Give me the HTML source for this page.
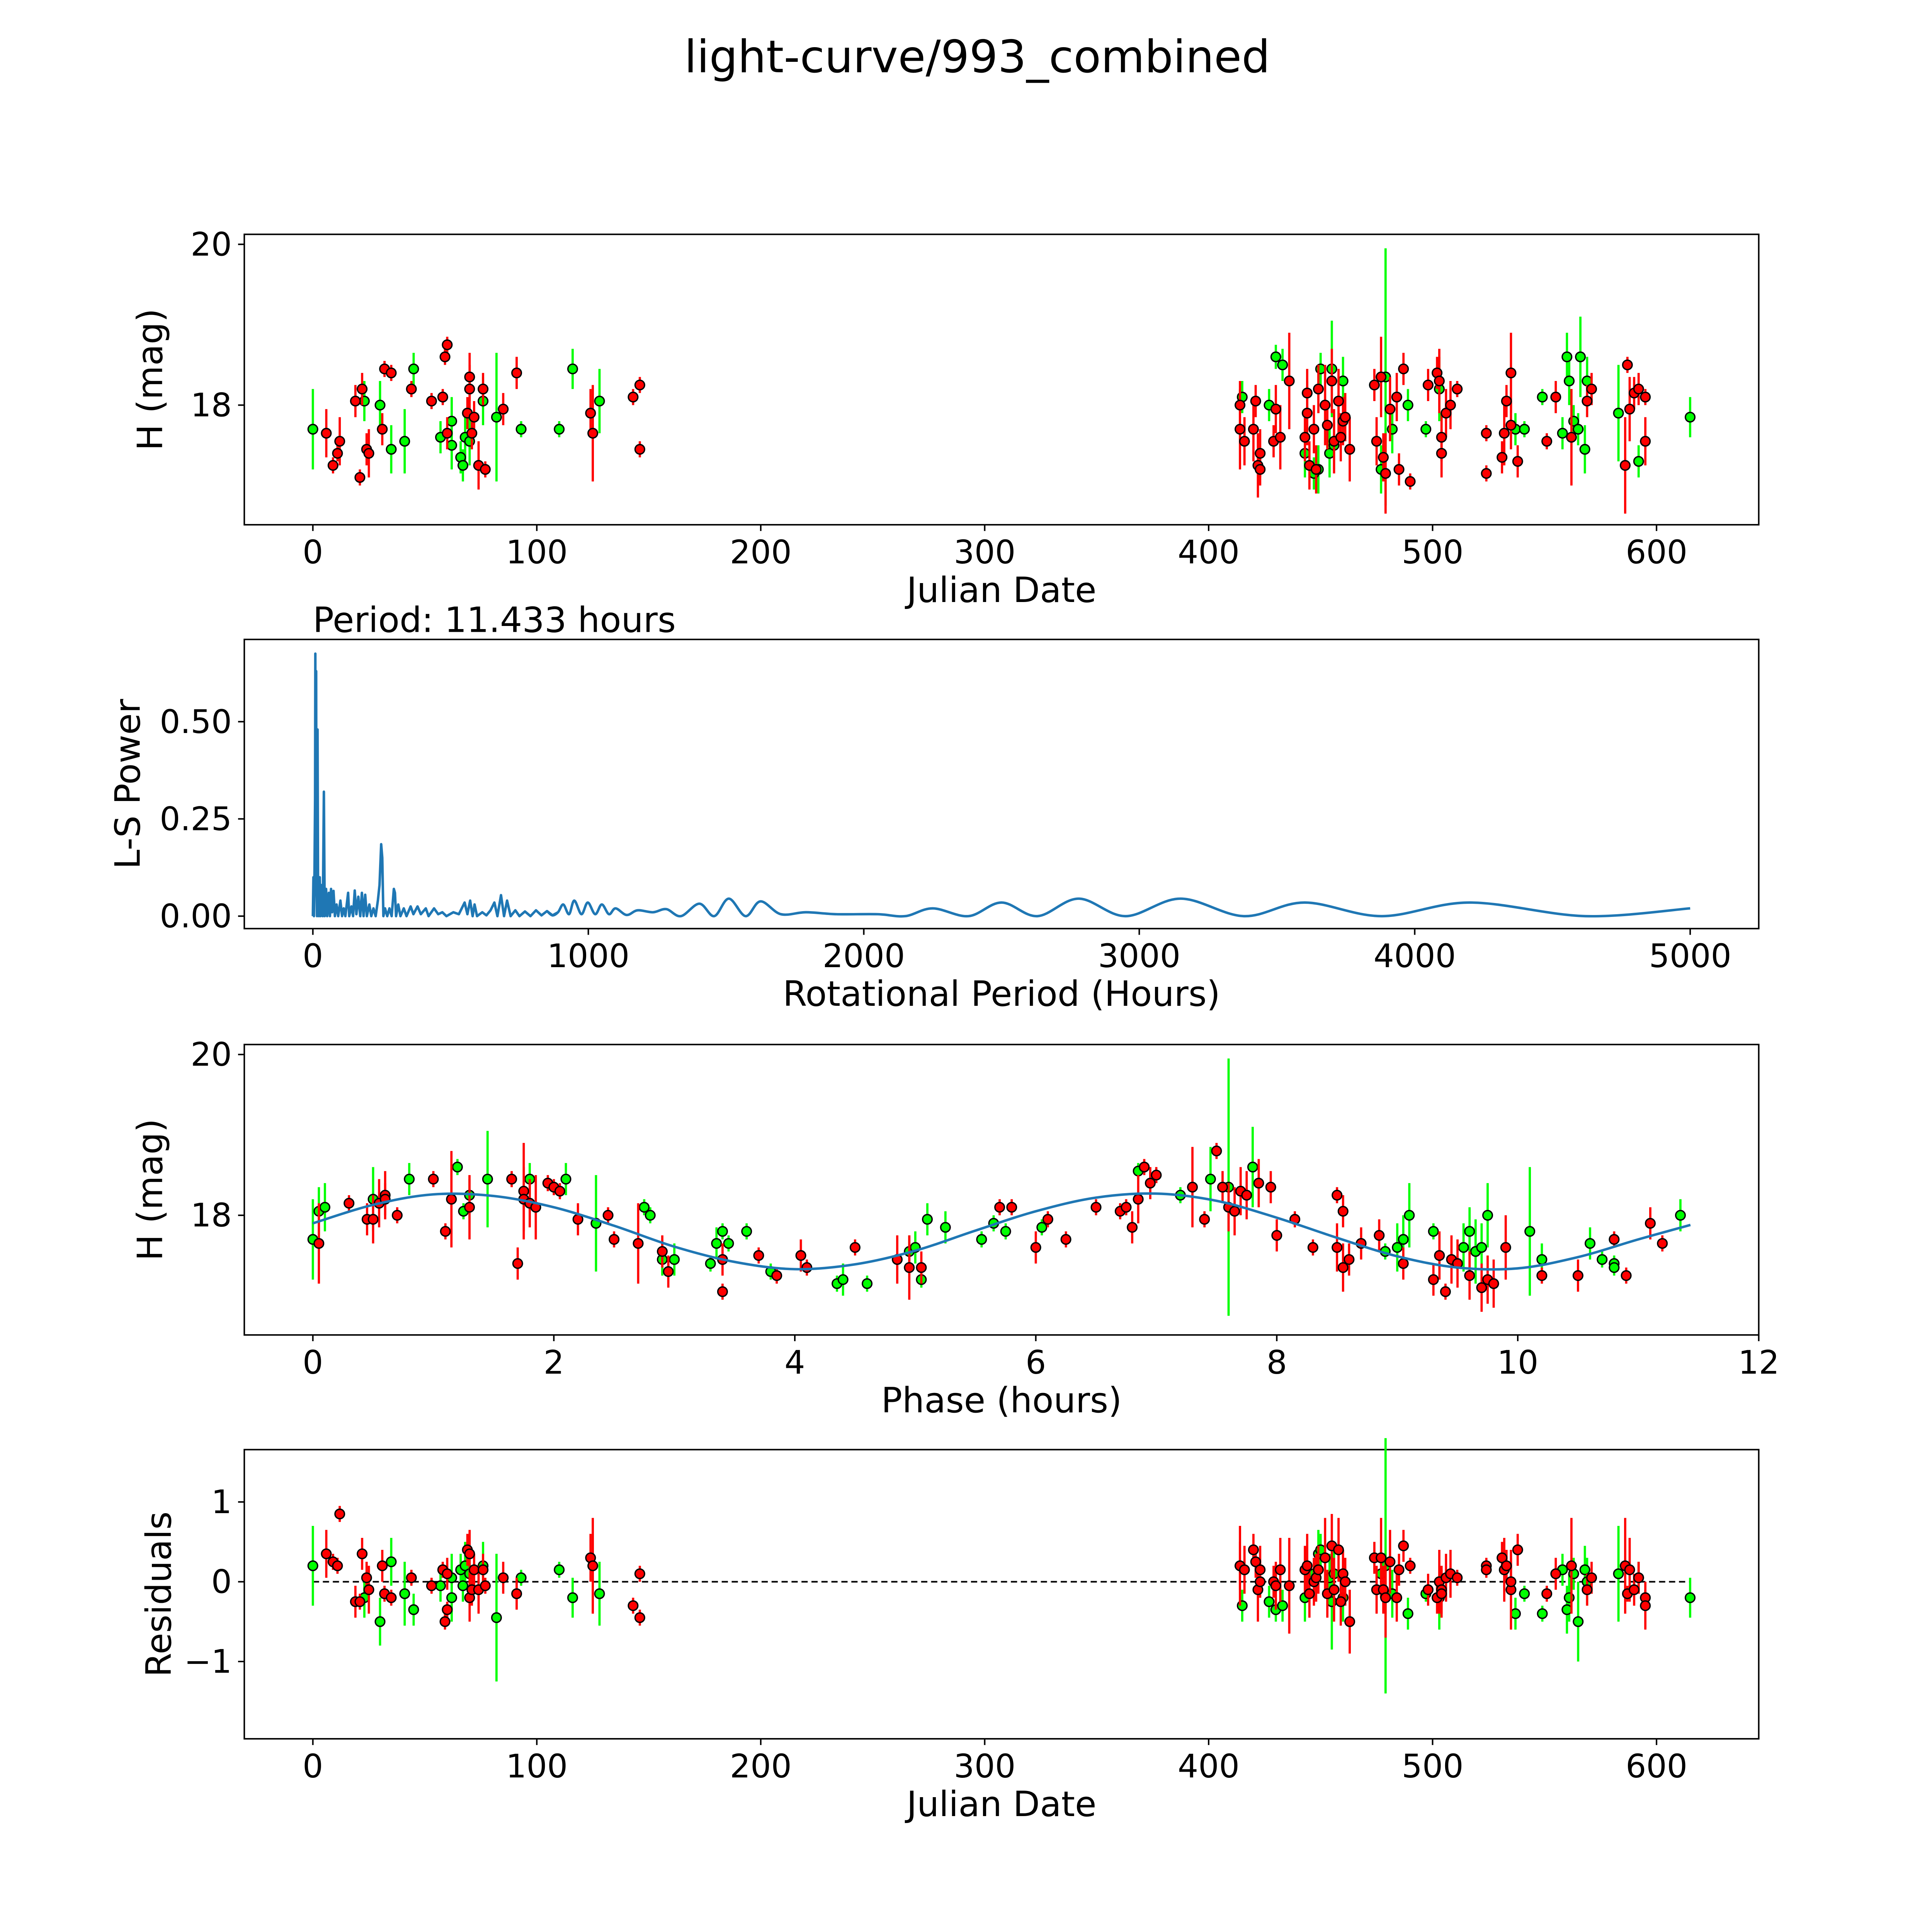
<!DOCTYPE html>
<html><head><meta charset="utf-8">
<style>html,body{margin:0;padding:0;background:#fff;overflow:hidden;width:100vw;height:100vh}svg{display:block;width:100vw;height:100vh}text{font-family:"DejaVu Sans","Liberation Sans",sans-serif}</style>
</head><body>
<svg id="fig" viewBox="0 0 1550 1550" preserveAspectRatio="xMidYMid meet" xmlns="http://www.w3.org/2000/svg">
<rect width="1550" height="1550" fill="#fff"/>
<text x="784" y="58" font-size="36" text-anchor="middle">light-curve/993_combined</text>
<text x="251" y="507" font-size="28">Period: 11.433 hours</text>
<g id="layer"></g>
</svg>
<script>
// ---- data ----
const jdTicks=[0,100,200,300,400,500,600];
const magTicks=[18,20];
const powTicks=[0,0.25,0.5];
const powTickLabels=["0.00","0.25","0.50"];
const perTicks=[0,1000,2000,3000,4000,5000];
const phaseTicks=[0,2,4,6,8,10,12];
const resTicks=[-1,0,1];
// [jd, mag, err]
const topGreen=[[0,17.7,.5],[23,18.05,.25],[30,18.0,.3],[35,17.45,.3],[41,17.55,.4],[45,18.45,.2],[57,17.6,.2],[62,17.5,.3],[62,17.8,.3],[66,17.35,.2],[67,17.25,.2],[68,17.6,.3],[70,17.55,.3],[76,18.05,.3],[82,17.85,.8],[93,17.7,.1],[110,17.7,.1],[116,18.45,.25],[128,18.05,.4],[415,18.1,.2],[427,18.0,.2],[430,18.6,.15],[433,18.5,.2],[443,17.4,.3],[447,17.15,.2],[449,17.2,.3],[450,18.45,.2],[454,17.4,.3],[455,18.45,.6],[456,17.5,.3],[460,18.3,.3],[477,17.2,.3],[479,18.35,1.6],[482,17.7,.3],[489,18.0,.2],[497,17.7,.1],[503,18.2,.4],[537,17.7,.2],[541,17.7,.1],[549,18.1,.1],[558,17.65,.2],[560,18.6,.3],[561,18.3,.3],[563,17.8,.2],[565,17.7,.2],[566,18.6,.5],[568,17.45,.3],[569,18.3,.3],[583,17.9,.6],[592,17.3,.2],[615,17.85,.25]];
const topRed=[[6,17.65,.3],[9,17.25,.1],[11,17.4,.1],[12,17.55,.3],[19,18.05,.2],[21,17.1,.1],[22,18.2,.2],[24,17.45,.2],[25,17.4,.3],[31,17.7,.2],[32,18.45,.1],[35,18.4,.1],[44,18.2,.1],[53,18.05,.1],[58,18.1,.1],[59,18.6,.1],[60,18.75,.1],[60,17.65,.2],[69,17.9,.2],[70,18.35,.3],[70,18.2,.3],[71,17.65,.2],[72,17.85,.2],[74,17.25,.3],[76,18.2,.2],[77,17.2,.1],[85,17.95,.2],[91,18.4,.2],[124,17.9,.3],[125,17.65,.6],[143,18.1,.1],[146,18.25,.1],[146,17.45,.1],[414,18.0,.3],[414,17.7,.5],[416,17.55,.3],[420,17.7,.4],[421,18.05,.2],[422,17.25,.4],[423,17.2,.2],[423,17.4,.3],[429,17.55,.2],[430,17.95,.3],[432,17.6,.4],[436,18.3,.6],[443,17.6,.3],[444,17.9,.4],[444,18.15,.3],[445,17.25,.3],[447,17.7,.3],[448,17.2,.3],[449,18.2,.3],[452,18.0,.5],[453,17.75,.3],[455,18.3,.4],[456,17.55,.4],[458,18.05,.4],[459,17.6,.3],[460,17.8,.3],[461,17.85,.3],[463,17.45,.4],[474,18.25,.2],[475,17.55,.3],[477,18.35,.5],[478,17.35,.3],[479,17.15,.5],[481,17.95,.4],[484,18.1,.3],[485,17.2,.2],[487,18.45,.2],[490,17.05,.1],[498,18.25,.2],[502,18.4,.2],[503,18.3,.4],[504,17.6,.3],[504,17.4,.3],[506,17.9,.3],[508,18.0,.3],[511,18.2,.1],[524,17.65,.1],[524,17.15,.1],[531,17.35,.2],[532,17.65,.4],[533,18.05,.2],[535,18.4,.5],[535,17.75,.3],[538,17.3,.2],[551,17.55,.1],[555,18.1,.2],[562,17.6,.6],[569,18.05,.2],[571,18.2,.2],[586,17.25,.6],[587,18.5,.1],[588,17.95,.4],[590,18.15,.2],[592,18.2,.2],[595,18.1,.1],[595,17.55,.3]];
// periodogram
const periods=[0,2,4,6,8,9,10,11,12,13,15,17,19,22,25,28,32,36,40,43,48,52,58,62,66,70,75,80,86,92,100,106,112,118,128,132,140,146,152,158,165,172,178,184,190,196,205,212,220,228,236,242,248,252,256,262,270,278,286,294,298,302,310,318,330,340,355,365,380,392,410,420,440,455,470,485,510,530,551,561,571,580,587,596,615,630,645,659,670,683,694,705,718,735,750,770,790,810,830,850,870,890,909,930,949,975,998,1025,1049,1075,1099,1139,1179,1235,1283,1336,1403,1457,1510,1571,1625,1699,1790,1900,2050,2150,2250,2380,2500,2630,2780,2950,3150,3380,3600,3880,4200,4620,5000];
const powers=[0,0.1,0,0.12,0.3,0.675,0.2,0.55,0.63,0.1,0,0.48,0.05,0,0.1,0,0.08,0,0.32,0,0.07,0,0.06,0,0.07,0.01,0.065,0,0.03,0,0.04,0,0.02,0,0.06,0,0.025,0,0.066,0.005,0.05,0,0.06,0,0.055,0,0.03,0,0.02,0,0.04,0.08,0.185,0.15,0,0.02,0,0.02,0,0.07,0.06,0,0.03,0,0.02,0,0.025,0.005,0.025,0.005,0.02,0,0.02,0.005,0.01,0,0.01,0.005,0.035,0.005,0.04,0,0.03,0,0.01,0.002,0.015,0.035,0,0.054,0,0.04,0,0.015,0,0.012,0,0.015,0.002,0.013,0.002,0.01,0.03,0.005,0.04,0.005,0.035,0.005,0.03,0.005,0.02,0.003,0.015,0.01,0.018,0,0.032,0,0.045,0,0.038,0.005,0.01,0.005,0.005,0,0.02,0,0.035,0,0.045,0,0.045,0,0.035,0,0.035,0,0.02];
// phase-folded [hours, mag, err]
const phGreen=[[0,17.7,.5],[0.05,18.05,.3],[0.1,18.1,.3],[0.5,18.2,.4],[0.8,18.45,.2],[1.2,18.6,.1],[1.25,18.05,.1],[1.3,18.25,.2],[1.45,18.45,.6],[1.8,18.45,.2],[2.1,18.45,.2],[2.35,17.9,.6],[2.75,18.1,.1],[2.8,18.0,.1],[2.9,17.45,.2],[3.0,17.45,.2],[3.3,17.4,.1],[3.35,17.65,.2],[3.4,17.8,.1],[3.45,17.65,.1],[3.6,17.8,.1],[3.8,17.3,.1],[4.35,17.15,.1],[4.4,17.2,.2],[4.6,17.15,.1],[4.95,17.55,.2],[5.0,17.6,.2],[5.05,17.2,.1],[5.1,17.95,.2],[5.25,17.85,.2],[5.55,17.7,.1],[5.65,17.9,.1],[5.75,17.8,.1],[6.05,17.85,.1],[6.85,18.55,.1],[7.2,18.25,.1],[7.45,18.45,.4],[7.6,18.35,1.6],[7.8,18.6,.5],[8.9,17.55,.1],[9.0,17.6,.3],[9.05,17.7,.3],[9.1,18.0,.4],[9.3,17.8,.1],[9.55,17.6,.3],[9.6,17.8,.3],[9.65,17.55,.4],[9.7,17.6,.3],[9.75,18.0,.4],[10.1,17.8,.8],[10.2,17.45,.2],[10.6,17.65,.2],[10.7,17.45,.1],[10.8,17.4,.1],[10.8,17.35,.1],[11.35,18.0,.2]];
const phRed=[[0.05,17.65,.5],[0.3,18.15,.1],[0.45,17.95,.2],[0.5,17.95,.3],[0.55,18.15,.3],[0.6,18.25,.3],[0.6,18.2,.2],[0.7,18.0,.1],[1.0,18.45,.1],[1.1,17.8,.1],[1.15,18.2,.6],[1.3,18.1,.4],[1.65,18.45,.1],[1.7,17.4,.2],[1.75,18.3,.6],[1.75,18.2,.4],[1.8,18.15,.3],[1.85,18.1,.4],[1.95,18.4,.1],[2.0,18.35,.1],[2.05,18.3,.1],[2.2,17.95,.2],[2.45,18.0,.1],[2.5,17.7,.1],[2.7,17.65,.5],[2.9,17.55,.2],[2.95,17.3,.2],[3.4,17.05,.1],[3.4,17.45,.2],[3.7,17.5,.1],[3.85,17.25,.1],[4.05,17.5,.2],[4.1,17.35,.1],[4.5,17.6,.1],[4.85,17.45,.3],[4.95,17.35,.4],[5.05,17.35,.2],[5.7,18.1,.1],[5.8,18.1,.1],[6.0,17.6,.2],[6.1,17.95,.1],[6.25,17.7,.1],[6.5,18.1,.1],[6.7,18.05,.1],[6.75,18.1,.1],[6.8,17.85,.2],[6.85,18.2,.3],[6.9,18.6,.1],[6.95,18.4,.2],[7.0,18.5,.1],[7.3,18.35,.5],[7.4,17.95,.1],[7.5,18.8,.1],[7.55,18.35,.2],[7.6,18.1,.3],[7.65,18.05,.3],[7.7,18.3,.3],[7.75,18.25,.3],[7.85,18.4,.3],[7.95,18.35,.2],[8.0,17.75,.2],[8.15,17.95,.1],[8.3,17.6,.1],[8.5,18.25,.1],[8.55,18.05,.2],[8.5,17.6,.3],[8.55,17.35,.3],[8.6,17.45,.2],[8.7,17.65,.2],[8.85,17.75,.2],[9.05,17.4,.2],[9.3,17.2,.2],[9.35,17.5,.3],[9.4,17.05,.1],[9.45,17.45,.3],[9.5,17.4,.3],[9.6,17.25,.3],[9.7,17.1,.3],[9.75,17.2,.3],[9.8,17.15,.3],[9.9,17.6,.4],[10.2,17.25,.1],[10.5,17.25,.2],[10.8,17.7,.1],[10.9,17.25,.1],[11.1,17.9,.2],[11.2,17.65,.1]];
const fitPhase=[0,0.5,1,1.5,2,2.5,3,3.5,4,4.5,5,5.5,6,6.5,7,7.5,8,8.5,9,9.5,10,10.5,11,11.433];
const fitMag=[17.9,18.13,18.26,18.24,18.1,17.87,17.61,17.42,17.33,17.39,17.56,17.81,18.05,18.22,18.27,18.18,17.97,17.72,17.49,17.35,17.34,17.48,17.7,17.88];
// residuals [jd, res, err]
const resGreen=[[0,0.2,.5],[23,-0.2,.25],[30,-0.5,.3],[35,0.25,.3],[41,-0.15,.4],[45,-0.35,.2],[57,-0.05,.2],[62,-0.2,.3],[62,0.05,.3],[66,0.15,.2],[67,-0.05,.2],[68,0.2,.3],[70,0.1,.3],[76,0.2,.3],[82,-0.45,.8],[93,0.05,.1],[110,0.15,.1],[116,-0.2,.25],[128,-0.15,.4],[415,-0.3,.2],[427,-0.25,.2],[430,-0.35,.15],[433,-0.3,.2],[443,-0.2,.3],[447,0.1,.2],[449,0.35,.3],[450,0.4,.2],[454,0.05,.3],[455,-0.25,.6],[456,0.1,.3],[460,-0.2,.3],[477,0.1,.3],[479,0.2,1.6],[482,-0.15,.3],[489,-0.4,.2],[497,-0.15,.1],[503,-0.2,.4],[537,-0.4,.2],[541,-0.15,.1],[549,-0.4,.1],[558,0.15,.2],[560,-0.35,.3],[561,-0.2,.3],[563,0.1,.2],[565,-0.5,.5],[568,0.15,.3],[569,0.0,.3],[583,0.1,.6],[592,0.05,.2],[615,-0.2,.25]];
const resRed=[[6,0.35,.3],[9,0.25,.1],[11,0.2,.1],[12,0.85,.1],[19,-0.25,.2],[21,-0.25,.1],[22,0.35,.2],[24,0.05,.2],[25,-0.1,.3],[31,0.2,.2],[32,-0.15,.1],[35,-0.2,.1],[44,0.05,.1],[53,-0.05,.1],[58,0.15,.1],[59,-0.5,.1],[60,-0.35,.1],[60,0.1,.2],[69,0.4,.2],[70,0.35,.3],[70,-0.2,.3],[71,-0.1,.2],[72,0.15,.2],[74,-0.1,.3],[76,0.15,.2],[77,-0.05,.1],[85,0.05,.2],[91,-0.15,.2],[124,0.3,.3],[125,0.2,.6],[143,-0.3,.1],[146,-0.45,.1],[146,0.1,.1],[414,0.2,.5],[414,0.2,.3],[416,0.15,.3],[420,0.4,.2],[421,0.25,.2],[422,-0.1,.4],[423,0.0,.2],[423,0.15,.3],[429,0.0,.2],[430,-0.05,.3],[432,0.15,.4],[436,-0.05,.6],[443,0.15,.3],[444,0.2,.4],[445,-0.15,.3],[447,0.0,.3],[448,0.05,.3],[449,0.15,.3],[452,0.3,.5],[453,-0.15,.3],[455,0.45,.4],[456,-0.1,.4],[458,0.4,.4],[459,-0.25,.3],[460,0.1,.3],[461,0.0,.3],[463,-0.5,.4],[474,0.3,.2],[475,-0.1,.3],[477,0.3,.5],[478,-0.1,.3],[479,-0.2,.5],[481,0.25,.4],[484,-0.2,.3],[485,0.15,.2],[487,0.45,.2],[490,0.2,.1],[498,-0.1,.2],[502,-0.2,.2],[503,0.0,.4],[504,-0.1,.3],[504,-0.15,.3],[506,0.05,.3],[508,0.1,.3],[511,0.05,.1],[524,0.2,.1],[524,0.15,.1],[531,0.3,.2],[532,0.15,.4],[533,0.2,.2],[535,-0.1,.5],[535,0.0,.3],[538,0.4,.2],[551,-0.15,.1],[555,0.1,.2],[562,0.2,.6],[569,-0.1,.2],[571,0.05,.2],[586,0.2,.6],[587,-0.15,.1],[588,0.15,.4],[590,-0.1,.2],[592,0.05,.2],[595,-0.2,.1],[595,-0.3,.3]];

// ---- drawing ----
const NS="http://www.w3.org/2000/svg";
const layer=document.getElementById('layer');
function mk(tag,attrs,parent){const e=document.createElementNS(NS,tag);for(const k in attrs)e.setAttribute(k,attrs[k]);(parent||layer).appendChild(e);return e;}
function lin(d0,d1,p0,p1){return v=>p0+(v-d0)*(p1-p0)/(d1-d0);}
const L=196,R=1411;
function axes(name,top,bot,xs,ys,xt,xtl,yt,ytl,xlabel,ylabel,ylx){
  const g=mk('g',{});
  
  
  const fr=mk('rect',{x:L,y:top,width:R-L,height:bot-top,fill:'none',stroke:'#000','stroke-width':1.2},g);
  
  
  xt.forEach((v,i)=>{const x=xs(v);
    const tk=mk('line',{x1:x,x2:x,y1:bot,y2:bot+5,stroke:'#000','stroke-width':1.2},g);
    
    
    const t=mk('text',{x:x,y:bot+31,'font-size':26,'text-anchor':'middle'},g);t.textContent=xtl[i];
    
    });
  yt.forEach((v,i)=>{const y=ys(v);
    const tk=mk('line',{x1:L,x2:L-5,y1:y,y2:y,stroke:'#000','stroke-width':1.2},g);
    
    
    const t=mk('text',{x:L-10,y:y+9,'font-size':26,'text-anchor':'end'},g);t.textContent=ytl[i];
    
    });
  const xl=mk('text',{x:(L+R)/2,y:bot+62,'font-size':28,'text-anchor':'middle'},g);xl.textContent=xlabel;
  
  
  const cy=(top+bot)/2;
  const yl=mk('text',{x:ylx,y:cy,'font-size':28,'text-anchor':'middle',transform:`rotate(-90 ${ylx} ${cy})`},g);yl.textContent=ylabel;
  
  
  return g;
}
function errpts(pts,xs,ys,col,name,g){
  pts.forEach(p=>{const x=xs(p[0]);
    const l=mk('line',{x1:x,x2:x,y1:ys(p[1]-p[2]),y2:ys(p[1]+p[2]),stroke:col,'stroke-width':1.8},g);
    
    });
  pts.forEach(p=>{
    const c=mk('circle',{cx:xs(p[0]),cy:ys(p[1]),r:3.8,fill:col,stroke:'#000','stroke-width':1.1},g);
    
    });
}
function smoothPath(px){let d=`M${px[0][0]},${px[0][1]}`;
  for(let i=0;i<px.length-1;i++){const p0=px[Math.max(0,i-1)],p1=px[i],p2=px[i+1],p3=px[Math.min(px.length-1,i+2)];
    d+=` C${p1[0]+(p2[0]-p0[0])/6},${p1[1]+(p2[1]-p0[1])/6} ${p2[0]-(p3[0]-p1[0])/6},${p2[1]-(p3[1]-p1[1])/6} ${p2[0]},${p2[1]}`;}
  return d;}

// panel 1
const x1=lin(0,600,251,1329), y1=lin(18,20,325,196);
const g1=axes('light-curve-panel',188,421,x1,y1,jdTicks,jdTicks.map(String),magTicks,magTicks.map(String),'Julian Date','H (mag)',130);
errpts(topGreen,x1,y1,'#00ff00','green-band',g1);
errpts(topRed,x1,y1,'#ff0000','red-band',g1);

// panel 2
const x2=lin(0,5000,251,1356), y2=lin(0,0.5,735,579);
const g2=axes('periodogram-panel',513,745,x2,y2,perTicks,perTicks.map(String),powTicks,powTickLabels,'Rotational Period (Hours)','L-S Power',112);
let dA='';let pts2=[];
periods.forEach((p,i)=>{ if(p<=900){dA+=(dA?' L':'M')+x2(p)+','+y2(powers[i]);} if(p>=850)pts2.push([x2(p),y2(powers[i])]);});
const pl=mk('path',{d:dA,fill:'none',stroke:'#1f77b4','stroke-width':2,'stroke-linejoin':'round'},g2);


const pl2=mk('path',{d:smoothPath(pts2),fill:'none',stroke:'#1f77b4','stroke-width':2},g2);



// panel 3
const x3=lin(0,12,251,1411), y3=lin(18,20,975,846);
const g3=axes('phase-panel',838,1071,x3,y3,phaseTicks,phaseTicks.map(String),magTicks,magTicks.map(String),'Phase (hours)','H (mag)',130);
errpts(phGreen,x3,y3,'#00ff00','phase-green',g3);
errpts(phRed,x3,y3,'#ff0000','phase-red',g3);
const fit=mk('path',{d:smoothPath(fitPhase.map((t,i)=>[x3(t),y3(fitMag[i])])),fill:'none',stroke:'#1f77b4','stroke-width':2},g3);



// panel 4
const x4=x1, y4=lin(0,1,1269,1205);
const g4=axes('residuals-panel',1163,1395,x4,y4,jdTicks,jdTicks.map(String),resTicks,resTicks.map(v=>v<0?'\u2212'+(-v):String(v)),'Julian Date','Residuals',137);
const zl=mk('line',{x1:x4(0),x2:x4(615),y1:y4(0),y2:y4(0),stroke:'#000','stroke-width':1.3,'stroke-dasharray':'5,3'},g4);


errpts(resGreen,x4,y4,'#00ff00','residual-green',g4);
errpts(resRed,x4,y4,'#ff0000','residual-red',g4);
</script>
</body></html>
